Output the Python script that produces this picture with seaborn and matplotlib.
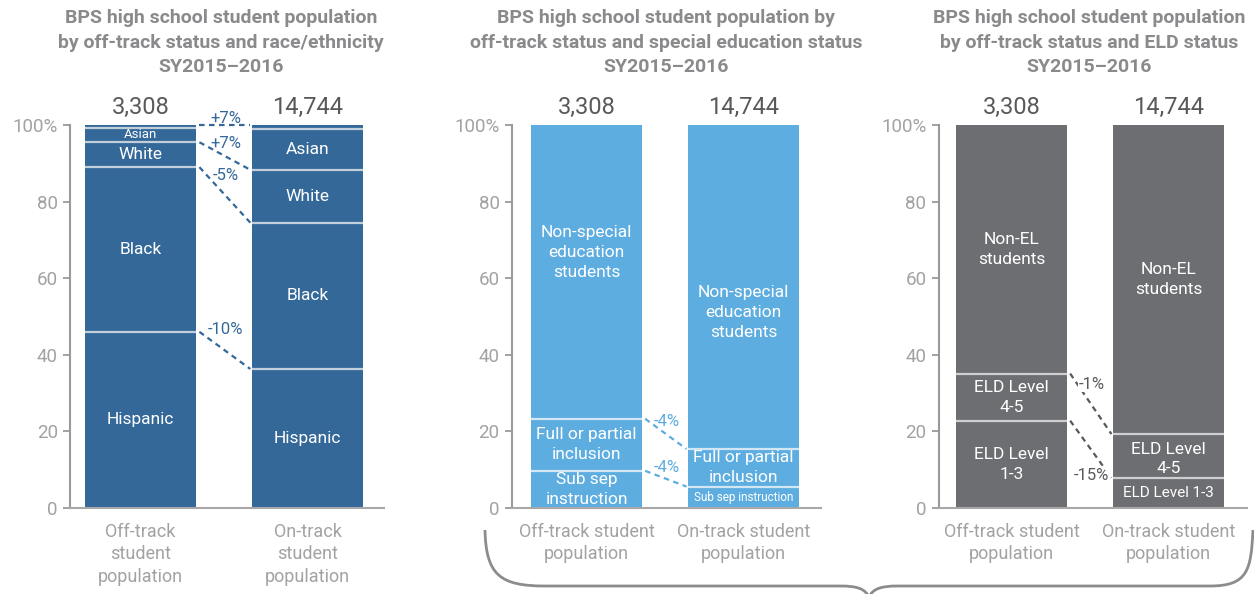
import matplotlib
matplotlib.use("Agg")
import matplotlib.pyplot as plt
import seaborn as sns
import pandas as pd
import numpy as np
from matplotlib.path import Path
from matplotlib.patches import PathPatch
from matplotlib.transforms import Affine2D

sns.set_style("white")
plt.rcParams['font.family'] = ['Roboto', 'DejaVu Sans']

# ---------------- data ----------------
groups = ["Off-track", "On-track"]
counts = ["3,308", "14,744"]

# Panel 1: race/ethnicity (bottom to top)
race_cats = ["Hispanic", "Black", "White", "Asian", "Other"]
race_off = [46.0, 43.0, 6.5, 3.8, 0.7]
race_on = [36.3, 38.2, 13.8, 10.7, 1.0]
race_diff_labels = ["-10%", "-5%", "+7%", "+7%"]

# Panel 2: special education status (bottom to top)
sped_cats = ["Sub sep instruction", "Full or partial inclusion", "Non-special education students"]
sped_off = [9.7, 13.6, 76.7]
sped_on = [5.6, 9.8, 84.6]
sped_diff_labels = ["-4%", "-4%"]

# Panel 3: ELD status (bottom to top)
eld_cats = ["ELD Level 1-3", "ELD Level 4-5", "Non-EL students"]
eld_off = [22.8, 12.3, 64.9]
eld_on = [7.9, 11.4, 80.7]
eld_diff_labels = ["-15%", "-1%"]

titles = [
    ["BPS high school student population", "by off-track status and race/ethnicity", "SY2015\u20132016"],
    ["BPS high school student population by", "off-track status and special education status", "SY2015\u20132016"],
    ["BPS high school student population", "by off-track status and ELD status", "SY2015\u20132016"],
]

# ---------------- layout ----------------
W, H = 1254, 594
fig = plt.figure(figsize=(W / 100, H / 100), dpi=100)

def px_axes(x0, x1, y_top=125, y_bot=508):
    return fig.add_axes([x0 / W, (H - y_bot) / H, (x1 - x0) / W, (y_bot - y_top) / H])

GREY_TXT = "#a2a2a2"
panels = [
    dict(ax=px_axes(70.4, 384.3), xlim=(-0.42, 1.46), width=0.665, color="#346899",
         sep="#c3cedb", dcol="#346899",
         off=race_off, on=race_on, cats=race_cats, diffs=race_diff_labels,
         conn=[0, 1, 2, 4],
         labels_off=["Hispanic", "Black", "White", "Asian", None],
         labels_on=["Hispanic", "Black", "White", "Asian", None],
         fs_off=[12.5, 12.5, 12.5, 9.5, 12.5], fs_on=[12.5, 12.5, 12.5, 12.5, 12.5],
         lab_dy_off=[0, 0, 0, 0, 0], lab_dy_on=[0, 0, 0, 0, 0],
         diff_y=[46.5, 86.7, 95.3, 101.8],
         xt=["Off-track\nstudent\npopulation", "On-track\nstudent\npopulation"],
         title_x=221),
    dict(ax=px_axes(512, 821), xlim=(-0.475, 1.494), width=0.707, color="#5dade0",
         sep="#d3e6f3", dcol="#5dade0",
         off=sped_off, on=sped_on, cats=sped_cats, diffs=sped_diff_labels,
         conn=[0, 1],
         labels_off=["Sub sep\ninstruction", "Full or partial\ninclusion", "Non-special\neducation\nstudents"],
         labels_on=["Sub sep instruction", "Full or partial\ninclusion", "Non-special\neducation\nstudents"],
         fs_off=[12.5, 12.5, 12.5], fs_on=[8.5, 12.5, 12.5],
         lab_dy_off=[0, 0, 5], lab_dy_on=[0, 0, -6.7],
         diff_y=[10.7, 22.7],
         xt=["Off-track student\npopulation", "On-track student\npopulation"],
         title_x=666),
    dict(ax=px_axes(939, 1247), xlim=(-0.462, 1.50), width=0.707, color="#6d6e72",
         sep="#cfcfd1", dcol="#58595b",
         off=eld_off, on=eld_on, cats=eld_cats, diffs=eld_diff_labels,
         conn=[0, 1],
         labels_off=["ELD Level\n1-3", "ELD Level\n4-5", "Non-EL\nstudents"],
         labels_on=["ELD Level 1-3", "ELD Level\n4-5", "Non-EL\nstudents"],
         fs_off=[12.5, 12.5, 12.5], fs_on=[11, 12.5, 12.5],
         lab_dy_off=[0, 0, 0], lab_dy_on=[0, -0.8, 0],
         diff_y=[8.6, 32.3],
         xt=["Off-track student\npopulation", "On-track student\npopulation"],
         title_x=1089),
]

for pi, p in enumerate(panels):
    ax = p["ax"]
    off = np.array(p["off"]); on = np.array(p["on"])
    cum_off = np.cumsum(off); cum_on = np.cumsum(on)
    n = len(off)
    # stacked bars: draw cumulative tops from top segment down
    for k in range(n - 1, -1, -1):
        df = pd.DataFrame({"group": groups, "value": [cum_off[k], cum_on[k]]})
        sns.barplot(data=df, x="group", y="value", order=groups, color=p["color"],
                    saturation=1, width=p["width"], ax=ax, linewidth=0, errorbar=None)
    hw = p["width"] / 2
    # separators
    for k in range(n - 1):
        ax.hlines(cum_off[k], 0 - hw, 0 + hw, color=p["sep"], lw=1.6, zorder=3)
        ax.hlines(cum_on[k], 1 - hw, 1 + hw, color=p["sep"], lw=1.6, zorder=3)
    # segment labels
    starts_off = cum_off - off; starts_on = cum_on - on
    for k in range(n):
        lo = p["labels_off"][k]
        if lo:
            ax.text(0, (starts_off[k] + cum_off[k]) / 2 + p["lab_dy_off"][k], lo, ha="center", va="center",
                    color="white", fontsize=p["fs_off"][k], linespacing=1.4, zorder=4)
        ln = p["labels_on"][k]
        if ln:
            ax.text(1, (starts_on[k] + cum_on[k]) / 2 + p["lab_dy_on"][k], ln, ha="center", va="center",
                    color="white", fontsize=p["fs_on"][k], linespacing=1.4, zorder=4)
    # connectors and diff labels
    for j, k in enumerate(p["conn"]):
        ax.plot([0 + hw + 0.02, 1 - hw - 0.01], [cum_off[k], cum_on[k]], ls=(0, (2.5, 2)),
                color=p["dcol"], lw=1.6, clip_on=False, zorder=4)
        ax.text(0.51, p["diff_y"][j], p["diffs"][j], ha="center", va="center",
                color=p["dcol"], fontsize=12, clip_on=False, zorder=5,
                bbox=dict(facecolor="white", edgecolor="none", pad=0.5) if pi == 2 else None)
    # counts
    for i, c in enumerate(counts):
        ax.text(i, 104.6, c, ha="center", va="center", fontsize=17, color="#58595b", clip_on=False)
    # axes styling
    ax.set_xlim(*p["xlim"]); ax.set_ylim(0, 100)
    ax.set_yticks([0, 20, 40, 60, 80, 100])
    ax.set_yticklabels(["0", "20", "40", "60", "80", "100%"])
    ax.set_xticks([0, 1])
    ax.set_xticklabels(p["xt"], linespacing=1.3)
    ax.set_xlabel(""); ax.set_ylabel("")
    ax.tick_params(axis="y", length=5, width=1.3, color="#9a9a9a", labelcolor=GREY_TXT,
                   labelsize=13.5, pad=4, left=True)
    ax.tick_params(axis="x", length=0, labelcolor=GREY_TXT, labelsize=13, pad=11)
    for s in ["top", "right"]:
        ax.spines[s].set_visible(False)
    ax.spines["left"].set_color("#9a9a9a"); ax.spines["left"].set_linewidth(1.5)
    ax.spines["bottom"].set_color("#a8a8a8"); ax.spines["bottom"].set_linewidth(1.5)
    # titles
    for line, y in zip(titles[pi], [18, 43, 67]):
        fig.text(p["title_x"] / W, 1 - y / H, line, ha="center", va="center",
                 fontsize=14, fontweight="bold", color="#8a8a8d")

# brace under the middle and right panels
trans = Affine2D().scale(1 / W, -1 / H).translate(0, 1) + fig.transFigure
verts = [(485, 530), (486, 575), (500, 586), (545, 586),
         (840, 586),
         (858, 586), (865, 589), (869, 597),
         (873, 589), (880, 586), (898, 586),
         (1210, 586),
         (1248, 586), (1251, 570), (1253, 530)]
codes = [Path.MOVETO, Path.CURVE4, Path.CURVE4, Path.CURVE4,
         Path.LINETO,
         Path.CURVE4, Path.CURVE4, Path.CURVE4,
         Path.CURVE4, Path.CURVE4, Path.CURVE4,
         Path.LINETO,
         Path.CURVE4, Path.CURVE4, Path.CURVE4]
fig.patches.append(PathPatch(Path(verts, codes), transform=trans, fill=False,
                             edgecolor="#8c8c8c", lw=2))

fig.savefig("out.png", dpi=100)
